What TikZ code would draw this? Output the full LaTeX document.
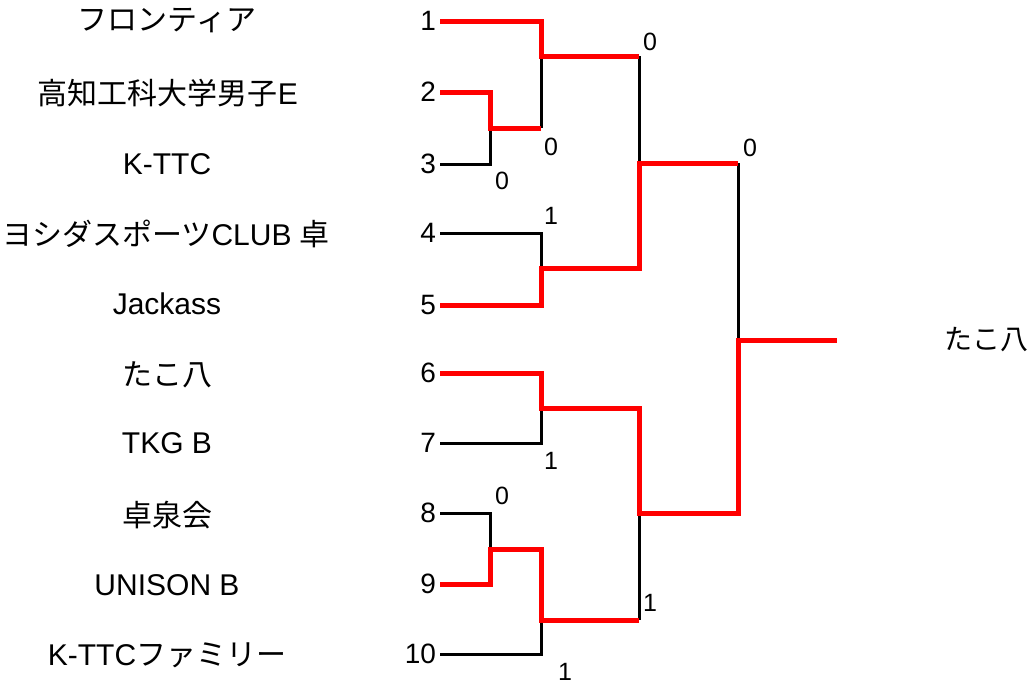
\documentclass[tikz,border=0pt]{standalone}
\usepackage{fontspec}
\setmainfont{Liberation Sans}
\newfontfamily\jp{Noto Sans CJK JP}
\usetikzlibrary{positioning}

\begin{document}
\begin{tikzpicture}[
    x=1pt, y=-1pt,
    team/.style={font=\fontsize{30}{34}\selectfont, inner sep=0pt},
    seed/.style={font=\fontsize{28}{32}\selectfont, anchor=east,
                 inner sep=0pt, outer sep=4pt},
    score/.style={font=\fontsize{25}{28}\selectfont, inner sep=0pt},
    lose/.style={black, line width=3pt},
    win/.style={red, line width=5pt}
]
\useasboundingbox (0,0) rectangle (1032,688);

% Teams
\node[team] (t1) at (167,21) {\jp フロンティア};
\node[team] (t2) at (168,93) {{\jp 高知工科大学男子}E};
\node[team] (t3) at (167,164) {K-TTC};
\node[team] (t4) at (166,234) {{\jp ヨシダスポーツ}CLUB {\jp 卓}};
\node[team] (t5) at (167,304) {Jackass};
\node[team] (t6) at (167,375) {\jp たこ八};
\node[team] (t7) at (167,443) {TKG B};
\node[team] (t8) at (167,515) {\jp 卓泉会};
\node[team] (t9) at (167,585) {UNISON B};
\node[team] (t10) at (167,655) {K-TTC{\jp ファミリー}};

% Seeds
\node[seed] (n1) at (440,21) {1};
\node[seed] (n2) at (440,92) {2};
\node[seed] (n3) at (440,164) {3};
\node[seed] (n4) at (440,233) {4};
\node[seed] (n5) at (440,305) {5};
\node[seed] (n6) at (440,373) {6};
\node[seed] (n7) at (440,443) {7};
\node[seed] (n8) at (440,513) {8};
\node[seed] (n9) at (440,584) {9};
\node[seed] (n10) at (440,654) {10};

% Match joints
\coordinate (p1) at (490,128);
\coordinate (p2) at (490,549);
\coordinate (r1) at (541,56);
\coordinate (r2) at (541,268);
\coordinate (r3) at (541,408);
\coordinate (r4) at (541,620);
\coordinate (s1) at (639,163);
\coordinate (s2) at (639,513);
\coordinate (f) at (738,340);
\coordinate (champ) at (837,340);

% Losing paths
\draw[lose] (n3.east) -| (p1);
\draw[lose] (r1) -- (p1 -| r1);
\draw[lose] (n4.east) -| (r2);
\draw[lose] (r1 -| s1) -- (s1);
\draw[lose] (n7.east) -| (r3);
\draw[lose] (n8.east) -| (p2);
\draw[lose] (n10.east) -| (r4);
\draw[lose] (r4 -| s2) -- (s2);
\draw[lose] (s1 -| f) -- (f);

% Winning paths
\draw[win] (n1.east) -| (r1) -- (r1 -| s1);
\draw[win] (n2.east) -| (p1) -- (p1 -| r1);
\draw[win] (n5.east) -| (r2) -- (r2 -| s1) -- (s1) -- (s1 -| f);
\draw[win] (n6.east) -| (r3) -- (r3 -| s2) -- (s2) -- (s2 -| f) -- (f) -- (champ);
\draw[win] (n9.east) -| (p2) -- (p2 -| r4) -- (r4) -- (r4 -| s2);

% Scores
\node[score] (c1) at (650,42) {0};
\node[score] (c2) at (551,147) {0};
\node[score] (c3) at (502,181) {0};
\node[score] (c4) at (551,216) {1};
\node[score] (c5) at (750,148) {0};
\node[score] (c6) at (551,461) {1};
\node[score] (c7) at (502,496) {0};
\node[score] (c8) at (650,603) {1};
\node[score] (c9) at (565,672) {1};

% Champion
\node[team, font=\fontsize{28}{32}\selectfont] (winner) at (986,340) {\jp たこ八};

\end{tikzpicture}
\end{document}
